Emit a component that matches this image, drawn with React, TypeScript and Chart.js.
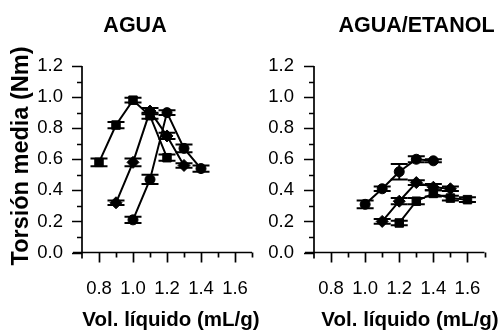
import React, { useEffect, useRef } from "react";
import { Chart, registerables } from "chart.js";

Chart.register(...registerables);

const FONT = "'Liberation Sans', Arial, Helvetica, sans-serif";

// Axis ticks
const xLabelValues = [0.8, 1.0, 1.2, 1.4, 1.6];
const xTickMarks = [0.8, 0.9, 1.0, 1.1, 1.2, 1.3, 1.4, 1.5, 1.6, 1.7];
const yLabelValues = [0.0, 0.2, 0.4, 0.6, 0.8, 1.0, 1.2];
const yTickMarks = [0.0, 0.1, 0.2, 0.3, 0.4, 0.5, 0.6, 0.7, 0.8, 0.9, 1.0, 1.1, 1.2];

// AGUA panel
const aguaA_x = [0.8, 0.9, 1.0, 1.1, 1.2];
const aguaA_y = [0.58, 0.82, 0.98, 0.88, 0.61];
const aguaA_err = [0.025, 0.02, 0.015, 0.02, 0.02];

const aguaB_x = [0.9, 1.0, 1.1, 1.2, 1.3];
const aguaB_y = [0.32, 0.58, 0.91, 0.75, 0.56];
const aguaB_err = [0.015, 0.025, 0.02, 0.02, 0.015];

const aguaC_x = [1.0, 1.1, 1.2, 1.3, 1.4];
const aguaC_y = [0.21, 0.47, 0.90, 0.67, 0.54];
const aguaC_err = [0.02, 0.03, 0.015, 0.025, 0.02];

// AGUA/ETANOL panel
const etanolA_x = [1.0, 1.1, 1.2, 1.3, 1.4];
const etanolA_y = [0.31, 0.41, 0.52, 0.60, 0.59];
const etanolA_err = [0.025, 0.015, 0.05, 0.02, 0.01];

const etanolB_x = [1.1, 1.2, 1.3, 1.4, 1.5];
const etanolB_y = [0.20, 0.33, 0.45, 0.42, 0.41];
const etanolB_err = [0.015, 0.02, 0.015, 0.02, 0.015];

const etanolC_x = [1.2, 1.3, 1.4, 1.5, 1.6];
const etanolC_y = [0.19, 0.33, 0.38, 0.35, 0.34];
const etanolC_err = [0.015, 0.02, 0.02, 0.015, 0.015];

const titles = ["AGUA", "AGUA/ETANOL"];
const xAxisTitle = "Vol. líquido (mL/g)";
const yAxisTitle = "Torsión media (Nm)";

function series(xs: number[], ys: number[], errs: number[], pointStyle: string, radius: number) {
  return {
    data: xs.map((v, i) => ({ x: v, y: ys[i] })),
    errors: errs,
    showLine: true,
    borderColor: "#000",
    borderWidth: 2,
    backgroundColor: "#000",
    pointBackgroundColor: "#000",
    pointBorderColor: "#000",
    pointStyle,
    pointRadius: radius,
    pointBorderWidth: 1,
    tension: 0,
  };
}

const panelPlugin = {
  id: "panel",
  afterDatasetsDraw(chart: any) {
    const { ctx } = chart;
    const xs = chart.scales.x;
    const ys = chart.scales.y;
    ctx.save();
    ctx.strokeStyle = "#000";
    ctx.lineWidth = 2;
    chart.data.datasets.forEach((ds: any) => {
      ds.data.forEach((p: any, i: number) => {
        const e = ds.errors[i];
        const px = xs.getPixelForValue(p.x);
        const t = ys.getPixelForValue(p.y + e);
        const b = ys.getPixelForValue(p.y - e);
        ctx.beginPath();
        ctx.moveTo(px, t);
        ctx.lineTo(px, b);
        ctx.moveTo(px - 8.5, t);
        ctx.lineTo(px + 8.5, t);
        ctx.moveTo(px - 8.5, b);
        ctx.lineTo(px + 8.5, b);
        ctx.stroke();
      });
    });
    ctx.restore();
  },
  afterDraw(chart: any, _args: any, opts: any) {
    const { ctx, chartArea } = chart;
    const xs = chart.scales.x;
    const ys = chart.scales.y;
    ctx.save();
    ctx.strokeStyle = "#000";
    ctx.lineWidth = 1.7;
    const left = chartArea.left;
    const bottom = chartArea.bottom;
    // axis lines
    ctx.beginPath();
    ctx.moveTo(left - 9, bottom);
    ctx.lineTo(xs.getPixelForValue(1.7), bottom);
    ctx.moveTo(left, ys.getPixelForValue(1.2));
    ctx.lineTo(left, bottom + 6);
    ctx.stroke();
    // ticks
    ctx.beginPath();
    xTickMarks.forEach((v) => {
      const major = xLabelValues.some((m) => Math.abs(m - v) < 1e-6);
      const px = Math.round(xs.getPixelForValue(v)) + 0.5;
      ctx.moveTo(px, bottom);
      ctx.lineTo(px, bottom + (major ? 10 : 5));
    });
    yTickMarks.forEach((v) => {
      const major = yLabelValues.some((m) => Math.abs(m - v) < 1e-6);
      const py = Math.round(ys.getPixelForValue(v)) + 0.5;
      ctx.moveTo(left, py);
      ctx.lineTo(left - (major ? 10 : 5), py);
    });
    ctx.stroke();
    // titles
    ctx.fillStyle = "#000";
    ctx.textAlign = "center";
    ctx.textBaseline = "alphabetic";
    ctx.font = `bold 21.5px ${FONT}`;
    ctx.fillText(opts.title, opts.titleX, 32);
    ctx.font = `bold 20.5px ${FONT}`;
    ctx.textBaseline = "middle";
    ctx.fillText(xAxisTitle, opts.xTitleX, 320);
    if (opts.showY) {
      ctx.save();
      ctx.translate(22, 156);
      ctx.rotate(-Math.PI / 2);
      ctx.font = `bold 23.5px ${FONT}`;
      ctx.fillText(yAxisTitle, 0, 0);
      ctx.restore();
    }
    ctx.restore();
  },
};

function makeConfig(datasets: any[], p: any) {
  return {
    type: "scatter" as const,
    data: { datasets },
    plugins: [panelPlugin],
    options: {
      animation: false,
      responsive: false,
      layout: { padding: { left: 0, top: 66, right: p.padRight, bottom: 0 } },
      plugins: {
        legend: { display: false },
        title: { display: false },
        tooltip: { enabled: false },
        panel: p,
      },
      scales: {
        x: {
          type: "linear",
          min: 0.7,
          max: 1.7,
          grid: { display: false, drawTicks: false },
          border: { display: false },
          afterBuildTicks: (s: any) => {
            s.ticks = xLabelValues.map((v) => ({ value: v }));
          },
          afterFit: (s: any) => {
            s.height = 336 - 252.5;
            s.paddingLeft = 0;
            s.paddingRight = 0;
          },
          ticks: {
            color: "#000",
            padding: 25,
            maxRotation: 0,
            autoSkip: false,
            font: { family: FONT, size: 18.5 },
            callback: (v: any) => Number(v).toFixed(1),
          },
        },
        y: {
          type: "linear",
          min: 0,
          max: 1.2,
          grid: { display: false, drawTicks: false },
          border: { display: false },
          afterBuildTicks: (s: any) => {
            s.ticks = yLabelValues.map((v) => ({ value: v }));
          },
          afterFit: (s: any) => {
            s.width = p.yWidth;
            s.paddingTop = 0;
            s.paddingBottom = 0;
          },
          ticks: {
            color: "#000",
            padding: p.yPad,
            font: { family: FONT, size: 18.5 },
            callback: (v: any) => Number(v).toFixed(1),
          },
        },
      },
    },
  };
}

export default function App() {
  const leftRef = useRef<HTMLCanvasElement>(null);
  const rightRef = useRef<HTMLCanvasElement>(null);

  useEffect(() => {
    const left = new Chart(
      leftRef.current as HTMLCanvasElement,
      makeConfig(
        [
          series(aguaA_x, aguaA_y, aguaA_err, "rect", 6),
          series(aguaB_x, aguaB_y, aguaB_err, "rectRot", 6),
          series(aguaC_x, aguaC_y, aguaC_err, "circle", 5),
        ],
        { title: titles[0], titleX: 135, xTitleX: 171, showY: true, padRight: 48, yWidth: 82, yPad: 19 }
      ) as any
    );
    const right = new Chart(
      rightRef.current as HTMLCanvasElement,
      makeConfig(
        [
          series(etanolA_x, etanolA_y, etanolA_err, "circle", 5),
          series(etanolB_x, etanolB_y, etanolB_err, "rectRot", 6),
          series(etanolC_x, etanolC_y, etanolC_err, "rect", 6),
        ],
        { title: titles[1], titleX: 160.5, xTitleX: 154, showY: false, padRight: 14.5, yWidth: 58, yPad: 20 }
      ) as any
    );
    return () => {
      left.destroy();
      right.destroy();
    };
  }, []);

  return (
    <div style={{ position: "fixed", left: 0, top: 0, width: 499, height: 336, background: "#fff" }}>
      <canvas ref={leftRef} width={300} height={336} style={{ position: "absolute", left: 0, top: 0, width: 300, height: 336 }} />
      <canvas ref={rightRef} width={243} height={336} style={{ position: "absolute", left: 256, top: 0, width: 243, height: 336 }} />
    </div>
  );
}
